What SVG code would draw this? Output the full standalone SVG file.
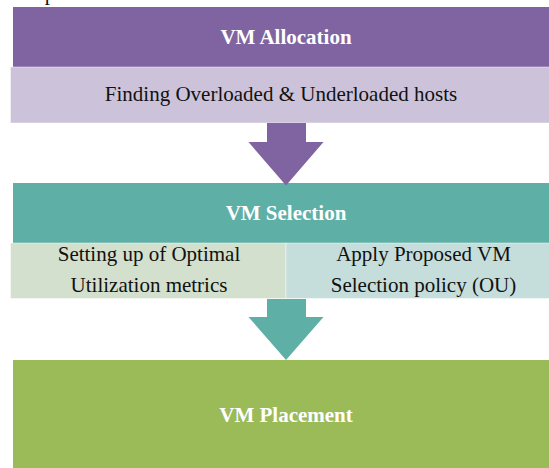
<svg xmlns="http://www.w3.org/2000/svg" width="549" height="468" viewBox="0 0 549 468">
  <style>
    .hdr { font-family: "Liberation Serif", "DejaVu Serif", serif; font-size: 21px; font-weight: bold; fill: #ffffff; text-anchor: middle; }
    .txt { font-family: "Liberation Serif", "DejaVu Serif", serif; font-size: 21px; fill: #111111; text-anchor: middle; }
    .sub { stroke: #ffffff; stroke-opacity: 0.45; stroke-width: 1; }
  </style>
  <rect x="0" y="0" width="549" height="468" fill="#ffffff"/>
  <text class="txt" x="50" y="0" text-anchor="middle">p</text>

  <g id="vm-allocation">
    <rect x="13" y="7" width="540" height="60" fill="#8064a2"/>
    <text class="hdr" x="286" y="43.5">VM Allocation</text>
  </g>
  <g id="finding-hosts">
    <rect class="sub" x="10.5" y="67" width="545" height="56" fill="#ccc3da"/>
    <text class="txt" x="281" y="101">Finding Overloaded &amp; Underloaded hosts</text>
  </g>

  <g id="vm-selection">
    <rect x="13" y="183" width="540" height="60" fill="#5eafa5"/>
    <text class="hdr" x="286" y="219.5">VM Selection</text>
  </g>
  <g id="optimal-metrics">
    <rect class="sub" x="10.5" y="243" width="275.5" height="55.5" fill="#d3e0cd"/>
    <text class="txt" x="149" y="260.5">Setting up of Optimal</text>
    <text class="txt" x="149" y="291.5">Utilization metrics</text>
  </g>
  <g id="selection-policy">
    <rect class="sub" x="286" y="243" width="270" height="55.5" fill="#c5dedb"/>
    <text class="txt" x="423.5" y="260.5">Apply Proposed VM</text>
    <text class="txt" x="423.5" y="291.5">Selection policy (OU)</text>
  </g>

  <g id="vm-placement">
    <rect x="13" y="360" width="540" height="112" fill="#9bbb59"/>
    <text class="hdr" x="286" y="421.5">VM Placement</text>
  </g>

  <g id="connectors">
    <polygon points="267,123 306,123 306,142 323.5,142 286,185.5 248.5,142 267,142" fill="#8064a2"/>
    <polygon points="267,299 306,299 306,317 323.5,317 286,360 248.5,317 267,317" fill="#5eafa5"/>
  </g>
</svg>
